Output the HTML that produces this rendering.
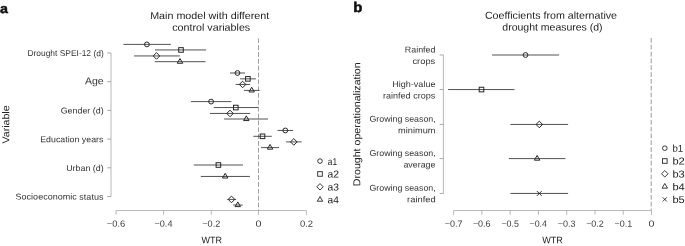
<!DOCTYPE html>
<html lang="en"><head><meta charset="utf-8"><title>Figure</title>
<style>
html,body{margin:0;padding:0;background:#fff;}
body{width:685px;height:246px;overflow:hidden;}
svg{display:block;font-family:"Liberation Sans", sans-serif;}
</style></head><body>
<svg width="685" height="246" viewBox="0 0 685 246">
<rect width="685" height="246" fill="#fff"/>
<g id="panel-a">
<text x="-0.1" y="12.9" transform="rotate(0.03)" font-size="13.2" font-weight="bold" fill="#111" stroke="#111" stroke-width="0.5" stroke-linejoin="round" textLength="7.9" lengthAdjust="spacingAndGlyphs">a</text>
<text id="t1" x="150.15" y="18.9" transform="rotate(0.03 150.15 18.9)" font-size="10" fill="#222" textLength="119.15" lengthAdjust="spacingAndGlyphs">Main model with different</text>
<text id="t2" x="172.25" y="30.8" transform="rotate(0.03 172.25 30.8)" font-size="10" fill="#222" textLength="77.95" lengthAdjust="spacingAndGlyphs">control variables</text>
<line x1="258.5" y1="38.4" x2="258.5" y2="210.55" stroke="#a0a0a0" stroke-width="1" stroke-dasharray="4.75,2.09"/>
<path d="M111.0,53V196.5" stroke="#a0a0a0" stroke-width="0.75" fill="none"/>
<line x1="107.2" y1="53" x2="111.0" y2="53" stroke="#8c8c8c" stroke-width="0.75"/>
<text id="t3" x="27.45" y="56.1" transform="rotate(0.03 27.45 56.1)" font-size="8.5" fill="#333" textLength="76.25" lengthAdjust="spacingAndGlyphs">Drought SPEI-12 (d)</text>
<line x1="107.2" y1="81.7" x2="111.0" y2="81.7" stroke="#8c8c8c" stroke-width="0.75"/>
<text id="t4" x="85" y="84.3" transform="rotate(0.03 85 84.3)" font-size="10" fill="#333" textLength="18.7" lengthAdjust="spacingAndGlyphs">Age</text>
<line x1="107.2" y1="110.4" x2="111.0" y2="110.4" stroke="#8c8c8c" stroke-width="0.75"/>
<text id="t5" x="60.65" y="113.5" transform="rotate(0.03 60.65 113.5)" font-size="8.5" fill="#333" textLength="43.05" lengthAdjust="spacingAndGlyphs">Gender (d)</text>
<line x1="107.2" y1="139.1" x2="111.0" y2="139.1" stroke="#8c8c8c" stroke-width="0.75"/>
<text id="t6" x="40.2" y="142.2" transform="rotate(0.03 40.2 142.2)" font-size="8.5" fill="#333" textLength="63.25" lengthAdjust="spacingAndGlyphs">Education years</text>
<line x1="107.2" y1="167.8" x2="111.0" y2="167.8" stroke="#8c8c8c" stroke-width="0.75"/>
<text id="t7" x="66.15" y="170.9" transform="rotate(0.03 66.15 170.9)" font-size="8.5" fill="#333" textLength="37.55" lengthAdjust="spacingAndGlyphs">Urban (d)</text>
<line x1="107.2" y1="196.5" x2="111.0" y2="196.5" stroke="#8c8c8c" stroke-width="0.75"/>
<text id="t8" x="15.55" y="199.6" transform="rotate(0.03 15.55 199.6)" font-size="8.5" fill="#333" textLength="87.9" lengthAdjust="spacingAndGlyphs">Socioeconomic status</text>
<path d="M116.05,210.55H306.4" stroke="#a0a0a0" stroke-width="0.75" fill="none"/>
<line x1="116.05" y1="210.55" x2="116.05" y2="214.75" stroke="#a0a0a0" stroke-width="0.75"/>
<text id="t9" x="106.8" y="226.7" transform="rotate(0.03 106.8 226.7)" font-size="9" fill="#404040" textLength="18.45" lengthAdjust="spacingAndGlyphs">−0.6</text>
<line x1="163.6" y1="210.55" x2="163.6" y2="214.75" stroke="#a0a0a0" stroke-width="0.75"/>
<text id="t10" x="154.5" y="226.7" transform="rotate(0.03 154.5 226.7)" font-size="9" fill="#404040" textLength="17.95" lengthAdjust="spacingAndGlyphs">−0.4</text>
<line x1="211.3" y1="210.55" x2="211.3" y2="214.75" stroke="#a0a0a0" stroke-width="0.75"/>
<text id="t11" x="202.3" y="226.7" transform="rotate(0.03 202.3 226.7)" font-size="9" fill="#404040" textLength="18" lengthAdjust="spacingAndGlyphs">−0.2</text>
<line x1="258.5" y1="210.55" x2="258.5" y2="214.75" stroke="#a0a0a0" stroke-width="0.75"/>
<text id="t12" x="255.5" y="226.7" transform="rotate(0.03 255.5 226.7)" font-size="9" fill="#404040" textLength="6" lengthAdjust="spacingAndGlyphs">0</text>
<line x1="306.4" y1="210.55" x2="306.4" y2="214.75" stroke="#a0a0a0" stroke-width="0.75"/>
<text id="t13" x="299.9" y="226.7" transform="rotate(0.03 299.9 226.7)" font-size="9" fill="#404040" textLength="13.1" lengthAdjust="spacingAndGlyphs">0.2</text>
<text id="t14" x="201.5" y="243.3" transform="rotate(0.03 201.5 243.3)" font-size="9.5" fill="#222" textLength="20.45" lengthAdjust="spacingAndGlyphs">WTR</text>
<text id="t15" transform="translate(9.2,143.4) rotate(-90.03)" font-size="10" fill="#222" textLength="38" lengthAdjust="spacingAndGlyphs">Variable</text>
<line x1="123.4" y1="44.4" x2="170.8" y2="44.4" stroke="#262626" stroke-width="0.8"/>
<circle cx="146.9" cy="44.4" r="2.41" fill="none" stroke="#262626" stroke-width="1.0"/>
<line x1="155" y1="49.95" x2="206.1" y2="49.95" stroke="#262626" stroke-width="0.8"/>
<rect x="178.7" y="47.65" width="4.6" height="4.6" fill="none" stroke="#262626" stroke-width="1.0"/>
<line x1="134" y1="55.95" x2="179.9" y2="55.95" stroke="#262626" stroke-width="0.8"/>
<polygon points="156.5,52.66 159.79,55.95 156.5,59.24 153.21,55.95" fill="none" stroke="#262626" stroke-width="1.0"/>
<line x1="154.8" y1="61.7" x2="205.5" y2="61.7" stroke="#262626" stroke-width="0.8"/>
<polygon points="180,58.57 182.71,63.27 177.29,63.27" fill="none" stroke="#262626" stroke-width="1.0"/>
<line x1="230" y1="73" x2="245" y2="73" stroke="#262626" stroke-width="0.8"/>
<circle cx="237.45" cy="73" r="2.41" fill="none" stroke="#262626" stroke-width="1.0"/>
<line x1="240.1" y1="78.85" x2="255.9" y2="78.85" stroke="#262626" stroke-width="0.8"/>
<rect x="245.6" y="76.55" width="4.6" height="4.6" fill="none" stroke="#262626" stroke-width="1.0"/>
<line x1="235.6" y1="84.45" x2="250.1" y2="84.45" stroke="#262626" stroke-width="0.8"/>
<polygon points="242.6,81.16 245.89,84.45 242.6,87.74 239.31,84.45" fill="none" stroke="#262626" stroke-width="1.0"/>
<line x1="244.1" y1="90.4" x2="259.6" y2="90.4" stroke="#262626" stroke-width="0.8"/>
<polygon points="251.7,87.27 254.41,91.97 248.99,91.97" fill="none" stroke="#262626" stroke-width="1.0"/>
<line x1="190.9" y1="101.6" x2="231.4" y2="101.6" stroke="#262626" stroke-width="0.8"/>
<circle cx="211.1" cy="101.6" r="2.41" fill="none" stroke="#262626" stroke-width="1.0"/>
<line x1="213.75" y1="107.55" x2="258.1" y2="107.55" stroke="#262626" stroke-width="0.8"/>
<rect x="233.5" y="105.25" width="4.6" height="4.6" fill="none" stroke="#262626" stroke-width="1.0"/>
<line x1="210" y1="113.45" x2="250.1" y2="113.45" stroke="#262626" stroke-width="0.8"/>
<polygon points="230,110.16 233.29,113.45 230,116.74 226.71,113.45" fill="none" stroke="#262626" stroke-width="1.0"/>
<line x1="224.1" y1="119" x2="268" y2="119" stroke="#262626" stroke-width="0.8"/>
<polygon points="246.3,115.87 249.01,120.57 243.59,120.57" fill="none" stroke="#262626" stroke-width="1.0"/>
<line x1="277.6" y1="130.45" x2="293.1" y2="130.45" stroke="#262626" stroke-width="0.8"/>
<circle cx="285.3" cy="130.45" r="2.41" fill="none" stroke="#262626" stroke-width="1.0"/>
<line x1="253.4" y1="136.3" x2="271.8" y2="136.3" stroke="#262626" stroke-width="0.8"/>
<rect x="260.2" y="134" width="4.6" height="4.6" fill="none" stroke="#262626" stroke-width="1.0"/>
<line x1="286.1" y1="141.9" x2="301.6" y2="141.9" stroke="#262626" stroke-width="0.8"/>
<polygon points="293.8,138.61 297.09,141.9 293.8,145.19 290.51,141.9" fill="none" stroke="#262626" stroke-width="1.0"/>
<line x1="261.1" y1="147.6" x2="279.1" y2="147.6" stroke="#262626" stroke-width="0.8"/>
<polygon points="270.05,144.47 272.76,149.17 267.34,149.17" fill="none" stroke="#262626" stroke-width="1.0"/>
<line x1="193.8" y1="165" x2="243" y2="165" stroke="#262626" stroke-width="0.8"/>
<rect x="216.1" y="162.7" width="4.6" height="4.6" fill="none" stroke="#262626" stroke-width="1.0"/>
<line x1="200.8" y1="176.45" x2="249.9" y2="176.45" stroke="#262626" stroke-width="0.8"/>
<polygon points="225.2,173.32 227.91,178.02 222.49,178.02" fill="none" stroke="#262626" stroke-width="1.0"/>
<line x1="227.2" y1="199.4" x2="236.1" y2="199.4" stroke="#262626" stroke-width="0.8"/>
<polygon points="231.5,196.11 234.79,199.4 231.5,202.69 228.21,199.4" fill="none" stroke="#262626" stroke-width="1.0"/>
<line x1="233.2" y1="205.05" x2="242.75" y2="205.05" stroke="#262626" stroke-width="0.8"/>
<polygon points="237.8,201.92 240.51,206.62 235.09,206.62" fill="none" stroke="#262626" stroke-width="1.0"/>
<circle cx="320" cy="161.1" r="2.29" fill="none" stroke="#262626" stroke-width="0.9"/>
<text id="t16" x="327.75" y="164.7" transform="rotate(0.03 327.75 164.7)" font-size="10" fill="#222" textLength="9.3" lengthAdjust="spacingAndGlyphs">a1</text>
<rect x="317.7" y="171.65" width="4.6" height="4.6" fill="none" stroke="#262626" stroke-width="0.9"/>
<text id="t17" x="327.5" y="177.55" transform="rotate(0.03 327.5 177.55)" font-size="10" fill="#222" textLength="11.45" lengthAdjust="spacingAndGlyphs">a2</text>
<polygon points="320,183.55 323.25,186.8 320,190.06 316.75,186.8" fill="none" stroke="#262626" stroke-width="0.9"/>
<text id="t18" x="327.5" y="190.4" transform="rotate(0.03 327.5 190.4)" font-size="10" fill="#222" textLength="11.45" lengthAdjust="spacingAndGlyphs">a3</text>
<polygon points="320,196.52 322.71,201.22 317.29,201.22" fill="none" stroke="#262626" stroke-width="0.9"/>
<text id="t19" x="327.5" y="203.25" transform="rotate(0.03 327.5 203.25)" font-size="10" fill="#222" textLength="11.3" lengthAdjust="spacingAndGlyphs">a4</text>
</g>
<g id="panel-b">
<text x="353.3" y="11.9" transform="rotate(0.03 353 12)" font-size="14" font-weight="bold" fill="#111" stroke="#111" stroke-width="0.5" stroke-linejoin="round" textLength="9.1" lengthAdjust="spacingAndGlyphs">b</text>
<text id="t20" x="484.9" y="18.75" transform="rotate(0.03 484.9 18.75)" font-size="10" fill="#222" textLength="132.15" lengthAdjust="spacingAndGlyphs">Coefficients from alternative</text>
<text id="t21" x="502.35" y="30.4" transform="rotate(0.03 502.35 30.4)" font-size="10" fill="#222" textLength="100.25" lengthAdjust="spacingAndGlyphs">drought measures (d)</text>
<line x1="651.2" y1="38.05" x2="651.2" y2="210.55" stroke="#a0a0a0" stroke-width="1.05" stroke-dasharray="4.75,2.07"/>
<path d="M443.4,55V193.45" stroke="#a0a0a0" stroke-width="0.75" fill="none"/>
<line x1="439.59999999999997" y1="55" x2="443.4" y2="55" stroke="#8c8c8c" stroke-width="0.75"/>
<text id="t22" x="404.8" y="52.4" transform="rotate(0.03 404.8 52.4)" font-size="8.5" fill="#333" textLength="30.7" lengthAdjust="spacingAndGlyphs">Rainfed</text>
<text id="t23" x="412.45" y="63.9" transform="rotate(0.03 412.45 63.9)" font-size="8.5" fill="#333" textLength="22.8" lengthAdjust="spacingAndGlyphs">crops</text>
<line x1="439.59999999999997" y1="89.55" x2="443.4" y2="89.55" stroke="#8c8c8c" stroke-width="0.75"/>
<text id="t24" x="392.2" y="86.95" transform="rotate(0.03 392.2 86.95)" font-size="8.5" fill="#333" textLength="43.3" lengthAdjust="spacingAndGlyphs">High-value</text>
<text id="t25" x="383" y="98.45" transform="rotate(0.03 383 98.45)" font-size="8.5" fill="#333" textLength="52.25" lengthAdjust="spacingAndGlyphs">rainfed crops</text>
<line x1="439.59999999999997" y1="124.45" x2="443.4" y2="124.45" stroke="#8c8c8c" stroke-width="0.75"/>
<text id="t26" x="369.4" y="121.85" transform="rotate(0.03 369.4 121.85)" font-size="8.5" fill="#333" textLength="66.35" lengthAdjust="spacingAndGlyphs">Growing season,</text>
<text id="t27" x="398" y="133.35" transform="rotate(0.03 398 133.35)" font-size="8.5" fill="#333" textLength="37.5" lengthAdjust="spacingAndGlyphs">minimum</text>
<line x1="439.59999999999997" y1="158.6" x2="443.4" y2="158.6" stroke="#8c8c8c" stroke-width="0.75"/>
<text id="t28" x="369.4" y="156" transform="rotate(0.03 369.4 156)" font-size="8.5" fill="#333" textLength="66.35" lengthAdjust="spacingAndGlyphs">Growing season,</text>
<text id="t29" x="403.45" y="167.5" transform="rotate(0.03 403.45 167.5)" font-size="8.5" fill="#333" textLength="32.05" lengthAdjust="spacingAndGlyphs">average</text>
<line x1="439.59999999999997" y1="193.45" x2="443.4" y2="193.45" stroke="#8c8c8c" stroke-width="0.75"/>
<text id="t30" x="369.4" y="190.85" transform="rotate(0.03 369.4 190.85)" font-size="8.5" fill="#333" textLength="66.35" lengthAdjust="spacingAndGlyphs">Growing season,</text>
<text id="t31" x="407.1" y="202.35" transform="rotate(0.03 407.1 202.35)" font-size="8.5" fill="#333" textLength="28.65" lengthAdjust="spacingAndGlyphs">rainfed</text>
<path d="M453.61,210.55H651.5" stroke="#a0a0a0" stroke-width="0.75" fill="none"/>
<line x1="453.61" y1="210.55" x2="453.61" y2="214.75" stroke="#a0a0a0" stroke-width="0.75"/>
<text id="t32" x="444.83" y="226.7" transform="rotate(0.03 444.83 226.7)" font-size="9" fill="#404040" textLength="17.75" lengthAdjust="spacingAndGlyphs">−0.7</text>
<line x1="481.88" y1="210.55" x2="481.88" y2="214.75" stroke="#a0a0a0" stroke-width="0.75"/>
<text id="t33" x="472.89" y="226.7" transform="rotate(0.03 472.89 226.7)" font-size="9" fill="#404040" textLength="17.75" lengthAdjust="spacingAndGlyphs">−0.6</text>
<line x1="510.15" y1="210.55" x2="510.15" y2="214.75" stroke="#a0a0a0" stroke-width="0.75"/>
<text id="t34" x="501.45" y="226.7" transform="rotate(0.03 501.45 226.7)" font-size="9" fill="#404040" textLength="17.5" lengthAdjust="spacingAndGlyphs">−0.5</text>
<line x1="538.42" y1="210.55" x2="538.42" y2="214.75" stroke="#a0a0a0" stroke-width="0.75"/>
<text id="t35" x="529.51" y="226.7" transform="rotate(0.03 529.51 226.7)" font-size="9" fill="#404040" textLength="17.5" lengthAdjust="spacingAndGlyphs">−0.4</text>
<line x1="566.69" y1="210.55" x2="566.69" y2="214.75" stroke="#a0a0a0" stroke-width="0.75"/>
<text id="t36" x="557.82" y="226.7" transform="rotate(0.03 557.82 226.7)" font-size="9" fill="#404040" textLength="17.75" lengthAdjust="spacingAndGlyphs">−0.3</text>
<line x1="594.96" y1="210.55" x2="594.96" y2="214.75" stroke="#a0a0a0" stroke-width="0.75"/>
<text id="t37" x="586.13" y="226.7" transform="rotate(0.03 586.13 226.7)" font-size="9" fill="#404040" textLength="17.75" lengthAdjust="spacingAndGlyphs">−0.2</text>
<line x1="623.23" y1="210.55" x2="623.23" y2="214.75" stroke="#a0a0a0" stroke-width="0.75"/>
<text id="t38" x="614.44" y="226.7" transform="rotate(0.03 614.44 226.7)" font-size="9" fill="#404040" textLength="17.75" lengthAdjust="spacingAndGlyphs">−0.1</text>
<line x1="651.5" y1="210.55" x2="651.5" y2="214.75" stroke="#a0a0a0" stroke-width="0.75"/>
<text id="t39" x="648.5" y="226.7" transform="rotate(0.03 648.5 226.7)" font-size="9" fill="#404040" textLength="6" lengthAdjust="spacingAndGlyphs">0</text>
<text id="t40" x="542.15" y="243.3" transform="rotate(0.03 542.15 243.3)" font-size="9.5" fill="#222" textLength="20.7" lengthAdjust="spacingAndGlyphs">WTR</text>
<text id="t41" transform="translate(360.3,186.2) rotate(-90.03)" font-size="10" fill="#222" textLength="123.85" lengthAdjust="spacingAndGlyphs">Drought operationalization</text>
<line x1="492.1" y1="55" x2="559.1" y2="55" stroke="#262626" stroke-width="0.8"/>
<circle cx="525.5" cy="55" r="2.41" fill="none" stroke="#262626" stroke-width="1.0"/>
<line x1="448.1" y1="89.55" x2="514.4" y2="89.55" stroke="#262626" stroke-width="0.8"/>
<rect x="479.2" y="87.25" width="4.6" height="4.6" fill="none" stroke="#262626" stroke-width="1.0"/>
<line x1="510.4" y1="124.45" x2="568.1" y2="124.45" stroke="#262626" stroke-width="0.8"/>
<polygon points="539.3,121.16 542.59,124.45 539.3,127.74 536.01,124.45" fill="none" stroke="#262626" stroke-width="1.0"/>
<line x1="508.9" y1="158.6" x2="565.4" y2="158.6" stroke="#262626" stroke-width="0.8"/>
<polygon points="537.1,155.47 539.81,160.17 534.39,160.17" fill="none" stroke="#262626" stroke-width="1.0"/>
<line x1="510.4" y1="193.45" x2="568.1" y2="193.45" stroke="#262626" stroke-width="0.8"/>
<path d="M536.92,191.07L541.68,195.83M536.92,195.83L541.68,191.07" fill="none" stroke="#262626" stroke-width="0.95"/>
<circle cx="664.8" cy="148.2" r="2.29" fill="none" stroke="#262626" stroke-width="0.9"/>
<text id="t42" x="672.45" y="151.8" transform="rotate(0.03 672.45 151.8)" font-size="10" fill="#222" textLength="10.75" lengthAdjust="spacingAndGlyphs">b1</text>
<rect x="662.5" y="158.7" width="4.6" height="4.6" fill="none" stroke="#262626" stroke-width="0.9"/>
<text id="t43" x="672.45" y="164.6" transform="rotate(0.03 672.45 164.6)" font-size="10" fill="#222" textLength="12.35" lengthAdjust="spacingAndGlyphs">b2</text>
<polygon points="664.8,170.55 668.05,173.8 664.8,177.06 661.54,173.8" fill="none" stroke="#262626" stroke-width="0.9"/>
<text id="t44" x="672.45" y="177.4" transform="rotate(0.03 672.45 177.4)" font-size="10" fill="#222" textLength="12.35" lengthAdjust="spacingAndGlyphs">b3</text>
<polygon points="664.8,183.47 667.51,188.17 662.09,188.17" fill="none" stroke="#262626" stroke-width="0.9"/>
<text id="t45" x="672.45" y="190.2" transform="rotate(0.03 672.45 190.2)" font-size="10" fill="#222" textLength="12.35" lengthAdjust="spacingAndGlyphs">b4</text>
<path d="M662.75,197.35L666.85,201.45M662.75,201.45L666.85,197.35" fill="none" stroke="#262626" stroke-width="0.90"/>
<text id="t46" x="672.45" y="203" transform="rotate(0.03 672.45 203)" font-size="10" fill="#222" textLength="12.35" lengthAdjust="spacingAndGlyphs">b5</text>
</g>
</svg>
</body></html>
